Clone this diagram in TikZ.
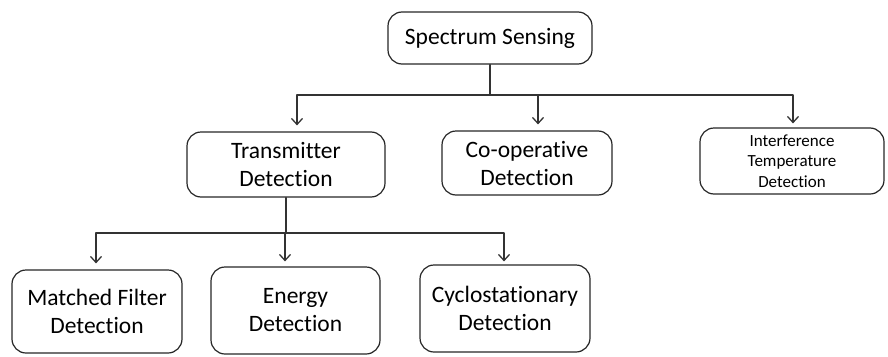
\documentclass[tikz,border=0pt]{standalone}
\usepackage{fontspec}
\setmainfont{Carlito}[Ligatures=NoCommon]
\usetikzlibrary{arrows.meta}
\begin{document}
\begin{tikzpicture}[line cap=round,line join=round,>={Straight Barb[length=6pt,width=11pt]},x=1pt,y=-1pt,
  box/.style={draw=black!85,line width=1.2pt,rounded corners=14pt,align=center,inner sep=0pt,font=\fontsize{23.5}{28}\selectfont},
  link/.style={draw=black!80,line width=1.3pt}]
\useasboundingbox (0,0) rectangle (888,356);
% top level
\node[box,minimum width=204pt,minimum height=52pt] (spec) at (490,38) {Spectrum Sensing};
% second level
\node[box,minimum width=198pt,minimum height=65pt] (trans) at (286,164.5) {Transmitter\\Detection};
\node[box,minimum width=170pt,minimum height=64pt] (coop) at (527,163) {Co-operative\\Detection};
\node[box,minimum width=184pt,minimum height=66pt,font=\fontsize{17}{20.5}\selectfont] (inter) at (792,161) {Interference\\Temperature\\Detection};
% third level
\node[box,minimum width=170pt,minimum height=83pt] (match) at (97,311.5) {Matched Filter\\Detection};
\node[box,minimum width=169pt,minimum height=87pt] (energy) at (295.5,310.5) {Energy\\Detection};
\node[box,minimum width=170pt,minimum height=87pt] (cyclo) at (505,308.5) {Cyclostationary\\Detection};
% connectors
\coordinate (bus1) at (490,95);
\coordinate (bus2) at (286,233);
\draw[link] (spec.south) -- (bus1);
\draw[link,->,shorten >=6pt] (bus1) -| ([xshift=11pt]trans.north);
\draw[link,->,shorten >=6pt] (bus1) -| ([xshift=11pt]coop.north);
\draw[link,->,shorten >=4pt] (bus1) -| ([xshift=1pt]inter.north);
\draw[link] (trans.south) -- (bus2);
\draw[link,->,shorten >=6pt] (bus2) -| ([xshift=-1pt]match.north);
\draw[link,->,shorten >=5pt] (bus2) -| ([xshift=-10.5pt]energy.north);
\draw[link,->,shorten >=3pt] (bus2) -| ([xshift=-1pt]cyclo.north);
\end{tikzpicture}
\end{document}
